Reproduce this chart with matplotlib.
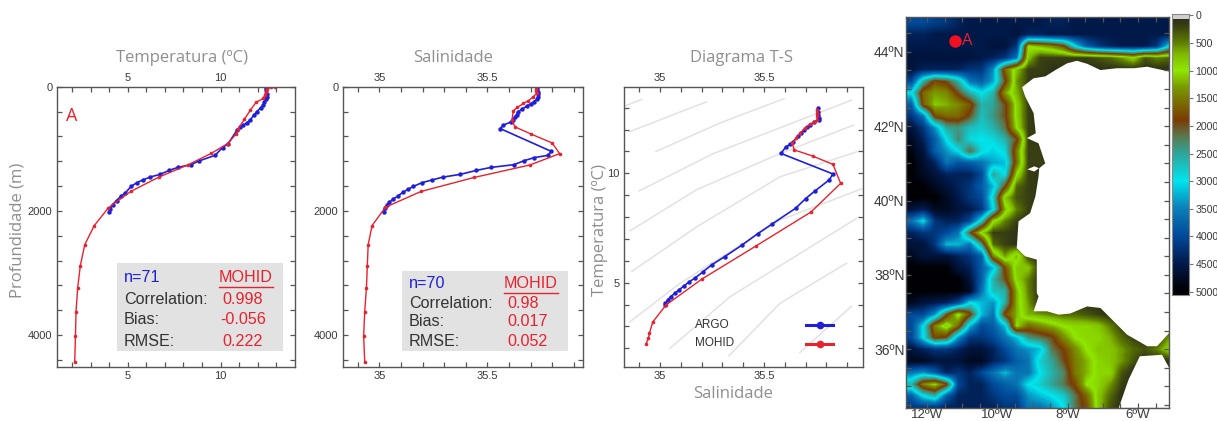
import numpy as np
import matplotlib
matplotlib.use('Agg')
import matplotlib.pyplot as plt
from matplotlib.colors import LinearSegmentedColormap
from matplotlib.lines import Line2D
from matplotlib.patches import Polygon, Rectangle

W, H = 1217, 421
plt.rcParams['font.family'] = ['Liberation Sans', 'DejaVu Sans']

# temperature profile (degC, m)
argo_temp = [12.42, 12.45, 12.47, 12.47, 12.42, 12.35, 12.3, 12.15, 11.94, 11.78, 11.58, 11.4, 11.22, 11.05, 10.9,
             10.41, 10.1, 9.7, 8.83, 8.4, 7.69, 7.24, 6.74, 6.2, 5.8, 5.48, 5.18, 4.86, 4.62, 4.4, 4.19, 4.05, 4.01]
argo_temp_depth = [20, 60, 110, 162, 200, 250, 296, 340, 404, 460, 539, 585, 620, 655, 690,
                   916, 981, 1105, 1197, 1256, 1300, 1348, 1412, 1456, 1504, 1547, 1607, 1714, 1768, 1833, 1898, 1968, 2022]
mohid_temp = [12.92, 12.7, 12.47, 12.42, 12.38, 12.3, 11.9, 11.6, 11.27, 10.95, 10.82, 10.38, 9.5, 8.26, 6.68, 5.16,
              3.96, 3.2, 2.69, 2.45, 2.31, 2.22, 2.19, 2.15]
mohid_temp_depth = [0, 8, 43, 80, 130, 189, 253, 377, 528, 674, 765, 916, 1073, 1256, 1456, 1687,
                    1951, 2237, 2544, 2884, 3235, 3622, 4016, 4431]

# salinity profile
argo_sal = [35.728, 35.731, 35.733, 35.736, 35.736, 35.728, 35.716, 35.70, 35.682, 35.662, 35.643, 35.635, 35.628, 35.62,
            35.61, 35.574, 35.559, 35.795, 35.782, 35.716, 35.671, 35.623, 35.517, 35.449, 35.375, 35.295, 35.242,
            35.196, 35.157, 35.131, 35.108, 35.085, 35.065, 35.046, 35.034, 35.025, 35.019]
argo_sal_depth = [0, 40, 80, 120, 162, 205, 243, 280, 313, 360, 404, 450, 496, 530,
                  566, 620, 674, 1040, 1105, 1143, 1191, 1256, 1300, 1348, 1412, 1456, 1504,
                  1547, 1607, 1655, 1703, 1763, 1806, 1860, 1903, 1957, 2022]
mohid_sal = [35.725, 35.726, 35.727, 35.728, 35.71, 35.69, 35.667, 35.639, 35.62, 35.614, 35.628, 35.704, 35.80, 35.835,
             35.697, 35.44, 35.193, 35.028, 34.966, 34.948, 34.944, 34.94, 34.932, 34.927, 34.932]
mohid_sal_depth = [0, 30, 65, 108, 170, 226, 270, 334, 388, 539, 647, 765, 906, 1078,
                   1261, 1461, 1687, 1941, 2237, 2544, 2884, 3235, 3622, 4016, 4431]

# T-S diagram
argo_ts_s = [35.761, 35.761, 35.762, 35.763, 35.763, 35.742, 35.721, 35.706, 35.692, 35.678, 35.665, 35.641, 35.625, 35.604,
             35.582, 35.832, 35.814, 35.745, 35.70, 35.652, 35.537, 35.47, 35.393, 35.311, 35.248, 35.207, 35.168,
             35.139, 35.115, 35.09, 35.071, 35.051, 35.037, 35.026, 35.024]
argo_ts_t = [12.97, 12.8, 12.65, 12.52, 12.44, 12.33, 12.21, 12.1, 11.98, 11.85, 11.71, 11.45, 11.33, 11.19,
             10.91, 9.97, 9.7, 9.19, 8.84, 8.4, 7.67, 7.24, 6.71, 6.19, 5.81, 5.5, 5.21,
             5.03, 4.85, 4.66, 4.51, 4.36, 4.21, 4.05, 3.98]
mohid_ts_s = [35.753, 35.754, 35.755, 35.756, 35.74, 35.721, 35.698, 35.673, 35.655, 35.636, 35.646, 35.734, 35.832, 35.869,
              35.726, 35.462, 35.202, 35.029, 34.965, 34.949, 34.944, 34.933]
mohid_ts_t = [12.9, 12.75, 12.6, 12.44, 12.34, 12.24, 12.05, 11.83, 11.6, 11.37, 11.07, 10.79, 10.41, 9.54,
              8.23, 6.68, 5.17, 3.98, 3.2, 2.68, 2.45, 2.2]

# density lines in the T-S diagram (S, T)
isopycnals = [
    ([34.832, 34.912], [13.08, 13.38]),
    ([34.853, 35.224], [11.9, 13.27]),
    ([34.981, 35.288, 35.596], [11.0, 12.3, 13.41]),
    ([34.90, 35.256, 35.92], [9.2, 10.9, 13.34]),
    ([34.856, 35.176, 35.577, 35.93], [7.37, 9.25, 10.9, 12.2]),
    ([34.864, 35.176, 35.577, 35.946], [5.51, 7.55, 9.84, 10.98]),
    ([34.856, 35.096, 35.577, 35.97], [3.22, 4.97, 7.86, 9.29]),
    ([35.048, 35.337, 35.946], [2.0, 4.36, 7.94]),
    ([35.332, 35.577, 35.897], [1.66, 4.06, 5.89]),
    ([35.673, 35.921], [1.81, 3.92]),
]

# stats boxes
stats_names = ['Correlation:', 'Bias:', 'RMSE:']
stats_temp = ['0.998', '-0.056', '0.222']
stats_sal = ['0.98', '0.017', '0.052']

# bathymetry, hundreds of metres, rows north to south (short rows are land on the right)
depth_rows = [
    [40,40,41,42,44,45,45,45,45,45,45,45,44,44,45,45,45,45,45,45,45,45,45],
    [44,44,45,45,45,45,45,45,45,46,44,44,45,45,45,45,45,45,45,45,45,45,45],
    [45,45,45,45,45,45,45,46,46,42,10,12,14,18,30,38,42,44,45,45,45,42,30],
    [46,46,46,46,46,46,45,44,42,36,8,2,2,2,2,2,3,4,6,9,3,5,4],
    [46,44,44,44,44,42,42,34,16,8,2,2],
    [40,26,18,20,26,36,38,33,20,6,2],
    [30,16,13,14,20,26,30,26,13,7,2],
    [38,17,11,12,14,17,26,25,20,9,2],
    [42,36,18,16,16,20,27,24,20,9,2],
    [46,42,34,25,24,27,28,26,22,10,2],
    [48,44,38,30,23,29,30,29,26,20,2],
    [49,46,38,34,30,21,29,31,29,15,2,2],
    [50,47,44,36,39,38,36,33,32,16,2,2],
    [50,48,46,44,44,44,40,25,30,10,2],
    [50,50,48,46,44,42,38,32,20,4,2],
    [50,50,50,48,45,42,40,28,8,3,2],
    [46,44,48,48,46,45,42,30,12,5,2],
    [36,30,42,44,44,40,28,10,5,2],
    [44,42,42,40,36,20,9,2,2],
    [46,46,42,32,32,36,24,4,2],
    [48,46,46,46,44,42,38,14,6,12,2],
    [50,50,50,50,46,44,38,32,18,8,8],
    [50,50,50,50,50,46,38,26,20,9,5],
    [50,50,50,50,50,48,36,27,26,12,5],
    [48,46,45,44,40,30,32,34,26,12,6],
    [40,40,34,20,9,18,32,36,18,12,7,6,5,4,4,3,2],
    [40,30,14,8,16,32,40,38,32,10,16,14,12,10,9,9,8,5,2],
    [40,30,18,20,34,42,42,40,36,32,24,22,20,14,10,9,9,7,4,2,1,1,6],
    [46,44,42,42,44,46,46,44,40,36,34,32,22,19,14,10,8,8,6,4,3,5,9],
    [48,48,46,46,46,48,48,44,42,38,36,28,25,20,15,12,9,8,6,3],
    [36,34,38,44,42,44,40,36,32,36,36,30,26,23,15,12,9,9,3],
    [26,14,10,18,40,44,44,40,38,36,30,28,25,22,18,10,9,6,2],
    [38,30,26,38,44,44,44,42,40,40,34,32,30,28,22,16,8,4],
    [42,42,42,44,44,44,44,44,42,42,36,36,34,30,22,18,8,3],
]
depth_lon = np.linspace(-12.44, -5.13, 23)
depth_lat = np.linspace(44.77, 34.42, 34)

# coast outlines (lon, lat)
iberia_lon = [-5.11, -5.74, -6.12, -6.6, -7.07, -7.45, -7.74, -8.02, -8.35, -8.64, -8.97, -9.3, -9.21, -8.97, -8.91,
              -9.16, -8.83, -8.64, -8.81, -8.83, -8.92, -9.07, -9.4, -9.45, -9.21, -8.88, -8.88, -8.83, -8.97,
              -8.59, -8.26, -7.93, -7.45, -7.07, -6.69, -6.31, -5.74, -5.46, -5.11]
iberia_lat = [43.47, 43.6, 43.56, 43.56, 43.51, 43.68, 43.76, 43.69, 43.51, 43.34, 43.29, 43.05, 42.8, 42.35, 41.81,
              41.68, 41.54, 41.0, 40.87, 40.65, 40.11, 39.66, 39.44, 38.72, 38.5, 38.41, 37.51, 37.42, 37.02,
              37.02, 36.93, 36.96, 37.15, 37.11, 36.75, 36.39, 36.08, 36.08, 36.44]
africa_lon = [-5.11, -5.32, -5.95, -6.27, -6.55, -5.11]
africa_lat = [35.49, 35.85, 35.81, 35.18, 34.42, 34.42]
lagoon_lon = [-9.15, -8.95, -8.82, -8.95, -9.15]
lagoon_lat = [40.84, 40.92, 40.87, 40.78, 40.84]

# colorbar
cb_ticks = [0, 500, 1000, 1500, 2000, 2500, 3000, 3500, 4000, 4500, 5000]
cb_depths = [0, 200, 500, 700, 1000, 1300, 1600, 1900, 2200, 2500, 3000, 3500, 4000, 4500, 5000]
cb_colors = ['#26281a', '#3a4012', '#5f8000', '#7fb800', '#90e800', '#7a9a00', '#7a6a00', '#7a3c05',
             '#5a7a50', '#2fa59a', '#00e5ee', '#0b7fb8', '#004a9a', '#001a4a', '#000005']

grey = '#8e8e8e'
frame = '#555555'
tick_col = '#3a3a3a'
blue = '#1f1fd8'
red = '#e8212e'

bath_cmap = LinearSegmentedColormap.from_list(
    'bath', [(d / 5000, c) for d, c in zip(cb_depths, cb_colors)])

fig = plt.figure(figsize=(W / 100, H / 100), dpi=100)


def px_axes(left, top, right, bottom):
    return fig.add_axes([left / W, 1 - bottom / H, (right - left) / W, (bottom - top) / H])


def ftext(x, y, s, **kw):
    kw.setdefault('va', 'center')
    fig.text(x / W, 1 - y / H, s, **kw)


def style(ax):
    for s in ax.spines.values():
        s.set_color(frame)
        s.set_linewidth(1.0)
    ax.tick_params(which='both', direction='in', top=True, right=True, color=frame, labelcolor=tick_col,
                   labelsize=8, length=3.5, width=0.9, pad=3)
    ax.tick_params(axis='x', labeltop=True)


def profile(ax, x1, y1, x2, y2):
    ax.plot(x1, y1, color=blue, lw=1.2, marker='o', ms=3.2, mew=0)
    ax.plot(x2, y2, color=red, lw=1.0, marker='o', ms=2.6, mew=0)


def stats_box(x0, x1, y0, n, vals, xvals, xmohid, ys):
    fig.add_artist(Rectangle((x0 / W, 1 - 351 / H), (x1 - x0) / W, (351 - y0) / H, transform=fig.transFigure,
                             facecolor='#e2e2e2', edgecolor='none', zorder=3))
    ftext(x0 + 7, ys[0], n, color=blue, fontsize=11.6, zorder=4)
    ftext(xmohid, ys[0], 'MOHID', color=red, fontsize=11.6, ha='center', zorder=4)
    fig.add_artist(Line2D([(xmohid - 27) / W, (xmohid + 27) / W], [1 - (ys[0] + 9) / H] * 2,
                          color=red, lw=1.0, zorder=4))
    for name, val, xval, y in zip(stats_names, vals, xvals, ys[1:]):
        ftext(x0 + 7, y, name, color='#333333', fontsize=11.6, zorder=4)
        ftext(xval, y, val, color=red, fontsize=11.6, ha='center', zorder=4)


# Temperature
ax1 = px_axes(56.7, 86.7, 295, 366.7)
profile(ax1, argo_temp, argo_temp_depth, mohid_temp, mohid_temp_depth)
ax1.set_xlim(1.18, 14.0)
ax1.set_ylim(4510, 0)
ax1.set_xticks([5, 10])
ax1.set_xticks(np.arange(2, 14), minor=True)
ax1.set_yticks([0, 2000, 4000])
ax1.set_yticks(np.arange(0, 4500, 400), minor=True)
style(ax1)
ax1.text(2.0, 470, 'A', color=red, fontsize=13, ha='center', va='center', family='Open Sans')

# Salinity
ax2 = px_axes(342.7, 86.7, 583, 366.7)
profile(ax2, argo_sal, argo_sal_depth, mohid_sal, mohid_sal_depth)
ax2.set_xlim(34.83, 35.943)
ax2.set_ylim(4510, 0)
ax2.set_xticks([35, 35.5])
ax2.set_xticklabels(['35', '35.5'])
ax2.set_xticks(np.arange(34.9, 35.95, 0.1), minor=True)
ax2.set_yticks([0, 2000, 4000])
ax2.set_yticks(np.arange(0, 4500, 400), minor=True)
style(ax2)

# T-S
ax3 = px_axes(624, 86.7, 862.7, 366.7)
for s_line, t_line in isopycnals:
    ax3.plot(s_line, t_line, color='#e2e2e2', lw=1.1, zorder=1)
profile(ax3, argo_ts_s, argo_ts_t, mohid_ts_s, mohid_ts_t)
ax3.set_xlim(34.827, 35.975)
ax3.set_ylim(1.16, 13.96)
ax3.set_xticks([35, 35.5])
ax3.set_xticklabels(['35', '35.5'])
ax3.set_xticks(np.arange(34.9, 35.95, 0.1), minor=True)
ax3.set_yticks([5, 10])
ax3.set_yticks(np.arange(2, 14), minor=True)
style(ax3)

for name, y, col in [('ARGO', 325, blue), ('MOHID', 343.5, red)]:
    ftext(695, y, name, color='#333333', fontsize=8.5, zorder=4)
    fig.add_artist(Line2D([806 / W, 833 / W], [1 - y / H] * 2, color=col, lw=2.2, zorder=4))
    fig.add_artist(Line2D([819.5 / W], [1 - y / H], color=col, marker='o', ms=5.5, mew=0, zorder=4))

# titles and axis labels
title_font = ['Open Sans', 'DejaVu Sans']
ftext(182, 58, 'Temperatura (ºC)', color=grey, fontsize=12, ha='center', family=title_font)
ftext(453, 58, 'Salinidade', color=grey, fontsize=12, ha='center', family=title_font)
ftext(741, 58, 'Diagrama T-S', color=grey, fontsize=12, ha='center', family=title_font)
ftext(733, 394, 'Salinidade', color=grey, fontsize=12, ha='center', family=title_font)
ftext(18, 230, 'Profundidade (m)', color=grey, fontsize=12, ha='center', rotation=90, family=title_font)
ftext(600, 230, 'Temperatura (ºC)', color=grey, fontsize=12, ha='center', rotation=90, family=title_font)

stats_box(117, 283, 263, 'n=71', stats_temp, [243, 243, 243], 246, [278, 299, 319, 341])
stats_box(402, 568, 271, 'n=70', stats_sal, [523, 528, 528], 531, [284, 303, 322, 342])

# Map
ax4 = px_axes(906, 17.3, 1169, 408.3)
depth_grid = np.array([r + [1] * (23 - len(r)) for r in depth_rows], dtype=float) * 100
dlon = depth_lon[1] - depth_lon[0]
dlat = depth_lat[0] - depth_lat[1]
ax4.imshow(depth_grid, cmap=bath_cmap, vmin=0, vmax=5000, interpolation='bilinear', aspect='auto',
           extent=[depth_lon[0] - dlon / 2, depth_lon[-1] + dlon / 2, depth_lat[-1] - dlat / 2, depth_lat[0] + dlat / 2])
for lons, lats in [(iberia_lon, iberia_lat), (africa_lon, africa_lat), (lagoon_lon, lagoon_lat)]:
    ax4.add_patch(Polygon(np.column_stack([lons, lats]), closed=True, facecolor='white', edgecolor='none'))
ax4.plot([-11.2], [44.3], 'o', color='#f01020', ms=9, mew=0)
ax4.text(-10.85, 44.3, 'A', color=red, fontsize=12, ha='center', va='center', family='Open Sans')
ax4.set_xlim(-12.6, -5.12)
ax4.set_ylim(34.41, 44.93)
ax4.set_xticks([-12, -10, -8, -6])
ax4.set_xticklabels(['12ºW', '10ºW', '8ºW', '6ºW'])
ax4.set_xticks(np.arange(-12.5, -5, 0.5), minor=True)
ax4.set_yticks([36, 38, 40, 42, 44])
ax4.set_yticklabels(['36ºN', '38ºN', '40ºN', '42ºN', '44ºN'])
ax4.set_yticks(np.arange(34.5, 45, 0.5), minor=True)
style(ax4)
ax4.tick_params(axis='x', labeltop=False, labelsize=9.5, pad=0.5)
ax4.tick_params(axis='y', labelsize=10, pad=1)

# Colorbar
cax = px_axes(1172.3, 14, 1189.3, 295)
cb_vals = np.linspace(60, 5060, 256).reshape(-1, 1)
cax.imshow(cb_vals, cmap=bath_cmap, vmin=0, vmax=5000, aspect='auto', extent=[0, 1, 5060, 60])
cax.add_patch(Rectangle((0, -25), 1, 85, facecolor='#d0d0d0', edgecolor='none'))
cax.set_xlim(0, 1)
cax.set_ylim(5060, -25)
cax.set_xticks([])
cax.yaxis.tick_right()
cax.set_yticks(cb_ticks)
for s in cax.spines.values():
    s.set_color('#888888')
cax.tick_params(axis='y', direction='out', color='#777777', labelcolor=tick_col, labelsize=7.6, length=3, pad=1.5)

fig.savefig('out.png', dpi=100)
